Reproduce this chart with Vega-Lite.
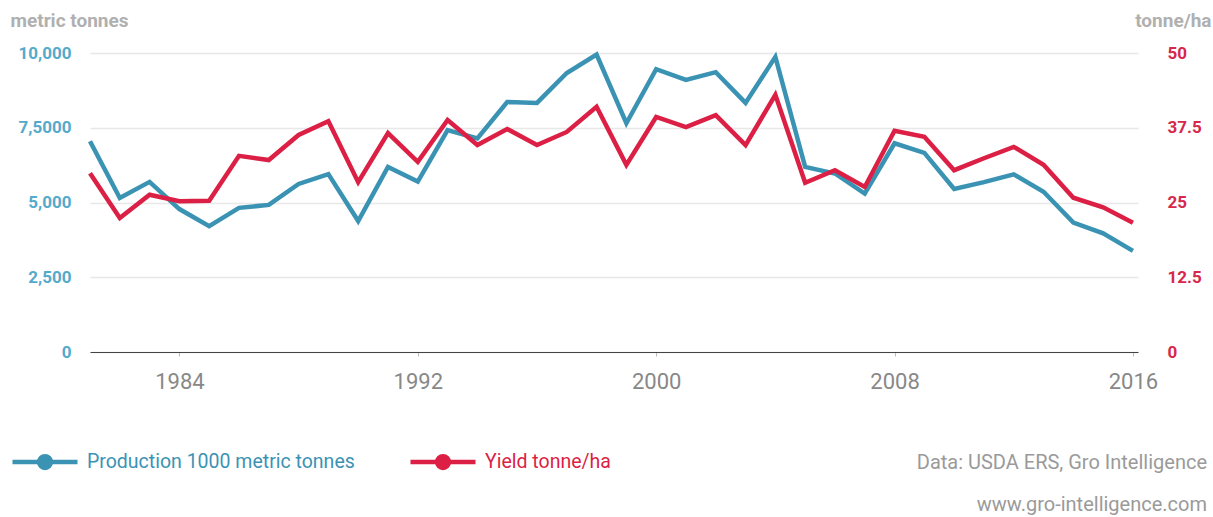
{
  "$schema": "https://vega.github.io/schema/vega-lite/v6.json",
  "width": 1048,
  "height": 299,
  "autosize": {"type": "none"},
  "padding": {"left": 90, "top": 53, "right": 75, "bottom": 165},
  "config": {
    "font": "Roboto",
    "view": {"stroke": null},
    "legend": {"padding": 0}
  },
  "title": {
    "text": "Data: USDA ERS, Gro Intelligence",
    "subtitle": "www.gro-intelligence.com",
    "orient": "bottom",
    "anchor": "end",
    "frame": "group",
    "dx": 69,
    "offset": -24,
    "fontSize": 20,
    "fontWeight": "normal",
    "color": "#9a9a9a",
    "subtitleFontSize": 20,
    "subtitleColor": "#9a9a9a",
    "subtitlePadding": 22
  },
  "data": {
    "values": [
      {"year": 1981, "production": 7050, "yield": 29.9},
      {"year": 1982, "production": 5150, "yield": 22.4},
      {"year": 1983, "production": 5690, "yield": 26.3},
      {"year": 1984, "production": 4780, "yield": 25.2},
      {"year": 1985, "production": 4210, "yield": 25.3},
      {"year": 1986, "production": 4820, "yield": 32.8},
      {"year": 1987, "production": 4920, "yield": 32.1},
      {"year": 1988, "production": 5620, "yield": 36.3},
      {"year": 1989, "production": 5950, "yield": 38.6},
      {"year": 1990, "production": 4380, "yield": 28.4},
      {"year": 1991, "production": 6190, "yield": 36.6},
      {"year": 1992, "production": 5700, "yield": 31.8},
      {"year": 1993, "production": 7420, "yield": 38.8},
      {"year": 1994, "production": 7140, "yield": 34.6},
      {"year": 1995, "production": 8360, "yield": 37.3},
      {"year": 1996, "production": 8330, "yield": 34.6},
      {"year": 1997, "production": 9330, "yield": 36.8},
      {"year": 1998, "production": 9950, "yield": 41.0},
      {"year": 1999, "production": 7650, "yield": 31.3},
      {"year": 2000, "production": 9460, "yield": 39.3},
      {"year": 2001, "production": 9100, "yield": 37.6},
      {"year": 2002, "production": 9360, "yield": 39.6},
      {"year": 2003, "production": 8330, "yield": 34.6},
      {"year": 2004, "production": 9870, "yield": 43.0},
      {"year": 2005, "production": 6190, "yield": 28.3},
      {"year": 2006, "production": 5970, "yield": 30.4},
      {"year": 2007, "production": 5300, "yield": 27.6},
      {"year": 2008, "production": 6980, "yield": 37.0},
      {"year": 2009, "production": 6660, "yield": 36.0},
      {"year": 2010, "production": 5450, "yield": 30.4},
      {"year": 2011, "production": 5680, "yield": 32.4},
      {"year": 2012, "production": 5940, "yield": 34.3},
      {"year": 2013, "production": 5360, "yield": 31.3},
      {"year": 2014, "production": 4330, "yield": 25.8},
      {"year": 2015, "production": 3970, "yield": 24.2},
      {"year": 2016, "production": 3380, "yield": 21.6}
    ]
  },
  "encoding": {
    "x": {
      "field": "year",
      "type": "quantitative",
      "scale": {"domain": [1981, 2016.17], "nice": false, "zero": false},
      "axis": {
        "values": [1984, 1992, 2000, 2008, 2016],
        "format": "d",
        "title": null,
        "grid": false,
        "domainColor": "#444444",
        "domainWidth": 1,
        "tickColor": "#bbbbbb",
        "tickSize": 4,
        "labelFontSize": 22,
        "labelColor": "#888888",
        "labelPadding": 15,
        "labelFlush": false
      }
    }
  },
  "layer": [
    {
      "mark": {"type": "line", "strokeWidth": 4.5},
      "encoding": {
        "y": {
          "field": "production",
          "type": "quantitative",
          "scale": {"domain": [0, 10000], "nice": false},
          "axis": {
            "orient": "left",
            "values": [0, 2500, 5000, 7500, 10000],
            "labelExpr": "datum.value == 7500 ? '7,5000' : format(datum.value, ',')",
            "domain": false,
            "ticks": false,
            "grid": true,
            "gridColor": "#e8e8e8",
            "gridWidth": 1.5,
            "labelFontSize": 17,
            "labelFontWeight": "bold",
            "labelColor": "#55aacb",
            "labelPadding": 19,
            "title": "metric tonnes",
            "titleAngle": 0,
            "titleAlign": "left",
            "titleBaseline": "middle",
            "titleX": -80,
            "titleY": -33,
            "titleFontSize": 19,
            "titleFontWeight": "bold",
            "titleColor": "#b0b0b0"
          }
        },
        "color": {
          "datum": "Production 1000 metric tonnes",
          "type": "nominal",
          "scale": {
            "domain": ["Production 1000 metric tonnes", "Yield tonne/ha"],
            "range": ["#3b93b4", "#dc1f44"]
          },
          "legend": {
            "title": null,
            "orient": "none",
            "direction": "horizontal",
            "legendX": -80,
            "legendY": 374,
            "symbolType": "M-1,0H1M-0.18,0A0.18,0.18 0 1,0 0.18,0A0.18,0.18 0 1,0 -0.18,0Z",
            "symbolSize": 4225,
            "symbolStrokeWidth": 4.5,
            "labelFontSize": 19.5,
            "labelOffset": 7,
            "labelLimit": 400,
            "columnPadding": 46,
            "encode": {
              "symbols": {"update": {"fill": {"scale": "color", "field": "value"}, "stroke": {"scale": "color", "field": "value"}, "fillOpacity": {"value": 1}}},
              "labels": {"update": {"fill": {"scale": "color", "field": "value"}}}
            }
          }
        }
      }
    },
    {
      "mark": {"type": "line", "strokeWidth": 4.5},
      "encoding": {
        "y": {
          "field": "yield",
          "type": "quantitative",
          "scale": {"domain": [0, 50], "nice": false},
          "axis": {
            "orient": "right",
            "values": [0, 12.5, 25, 37.5, 50],
            "labelExpr": "format(datum.value, '.1~f')",
            "domain": false,
            "ticks": false,
            "grid": false,
            "labelFontSize": 17,
            "labelFontWeight": "bold",
            "labelColor": "#d7274c",
            "labelPadding": 29,
            "title": "tonne/ha",
            "titleAngle": 0,
            "titleAlign": "right",
            "titleBaseline": "middle",
            "titleX": 73,
            "titleY": -33,
            "titleFontSize": 19,
            "titleFontWeight": "bold",
            "titleColor": "#b0b0b0"
          }
        },
        "color": {"datum": "Yield tonne/ha", "type": "nominal"}
      }
    }
  ],
  "resolve": {"scale": {"y": "independent"}}
}
